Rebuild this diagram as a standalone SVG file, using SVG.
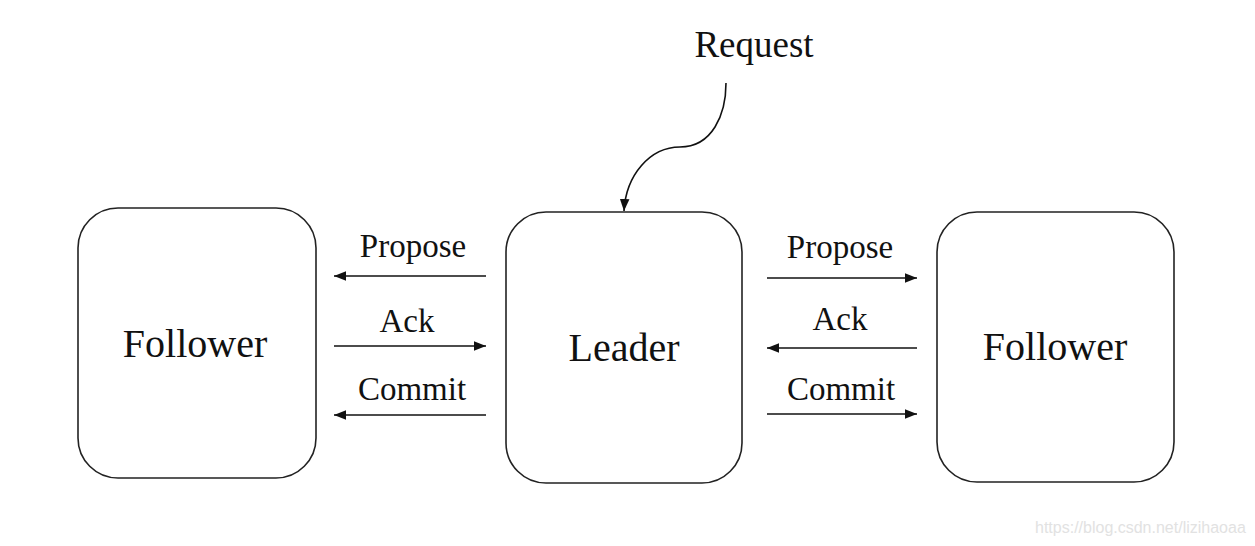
<svg xmlns="http://www.w3.org/2000/svg" width="1255" height="546" viewBox="0 0 1255 546">
<style>
.box{fill:#fff;stroke:#222;stroke-width:1.6}
.big{font-family:"Liberation Serif",serif;font-size:40px;fill:#111;text-anchor:middle}
.lbl{font-family:"Liberation Serif",serif;font-size:33px;fill:#111;text-anchor:middle}
.ln{stroke:#111;stroke-width:1.6;fill:none}
.wm{font-family:"Liberation Sans",sans-serif;font-size:16px;fill:#e2e2e2}
</style>
<defs>
<marker id="ah" viewBox="0 0 10 10" refX="10" refY="5" markerWidth="12" markerHeight="12" markerUnits="userSpaceOnUse" orient="auto">
<path d="M0,1 L10,5 L0,9 Z" fill="#111"/>
</marker>
</defs>
<rect width="1255" height="546" fill="#fff"/>
<g id="follower-left">
<rect class="box" x="78" y="208" width="238" height="270" rx="40"/>
<text class="big" x="195" y="357">Follower</text>
</g>
<g id="leader">
<rect class="box" x="506" y="212" width="236" height="271" rx="40"/>
<text class="big" x="624" y="361">Leader</text>
</g>
<g id="follower-right">
<rect class="box" x="937" y="212" width="237" height="270" rx="40"/>
<text class="big" x="1055" y="360">Follower</text>
</g>
<g id="request">
<text class="lbl" x="754" y="57" style="font-size:37px">Request</text>
</g>
<g id="connectors">
<path class="ln" d="M726,83 C726,115 712,147 680,147 C650,147 626,175 624,211" marker-end="url(#ah)"/>
<line class="ln" x1="486" y1="276" x2="334" y2="276" marker-end="url(#ah)"/>
<line class="ln" x1="334" y1="346" x2="486" y2="346" marker-end="url(#ah)"/>
<line class="ln" x1="486" y1="415" x2="334" y2="415" marker-end="url(#ah)"/>
<line class="ln" x1="767" y1="278" x2="917" y2="278" marker-end="url(#ah)"/>
<line class="ln" x1="917" y1="348" x2="767" y2="348" marker-end="url(#ah)"/>
<line class="ln" x1="767" y1="414" x2="917" y2="414" marker-end="url(#ah)"/>
</g>
<g id="labels">
<text class="lbl" x="413" y="257">Propose</text>
<text class="lbl" x="407" y="332">Ack</text>
<text class="lbl" x="412" y="400">Commit</text>
<text class="lbl" x="840" y="258">Propose</text>
<text class="lbl" x="840" y="330">Ack</text>
<text class="lbl" x="841" y="400">Commit</text>
</g>
<text class="wm" x="1035" y="533">https://blog.csdn.net/lizihaoaa</text>
</svg>
